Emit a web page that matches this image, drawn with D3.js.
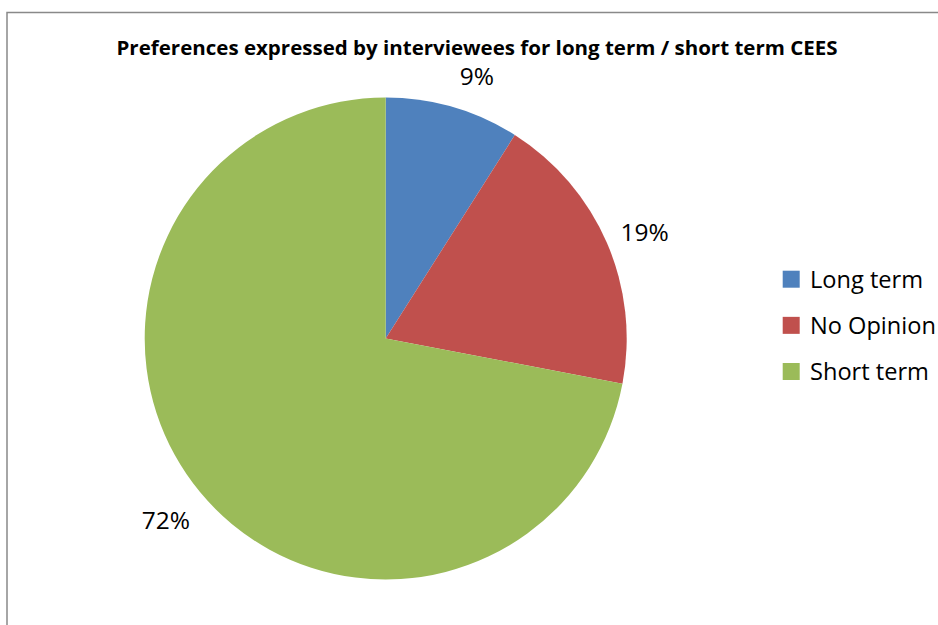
<!DOCTYPE html>
<html>
<head>
<meta charset="utf-8">
<script src="https://cdn.jsdelivr.net/npm/d3@7"></script>
<style>
  html, body { margin: 0; padding: 0; background: #fff; }
  svg { display: block; }
</style>
</head>
<body>
<svg id="chart" width="938" height="625"></svg>
<script>
// Share of interviewees by preferred CEES term
const categories = ["Long term", "No Opinion", "Short term"];
const shares = [9, 19, 72];
const sliceColors = ["#4F81BD", "#C0504D", "#9BBB59"];
const titleText = "Preferences expressed by interviewees for long term / short term CEES";

const svg = d3.select("#chart");
const W = 938, H = 625;
const cx = 385.7, cy = 338.5, radius = 241;

// outer chart frame (runs past the right and bottom edges)
svg.append("rect")
  .attr("x", 7).attr("y", 12.5)
  .attr("width", W + 20).attr("height", H + 20)
  .attr("fill", "#fff")
  .attr("stroke", "#898989")
  .attr("stroke-width", 1.5);

// title
svg.append("text")
  .attr("x", 477).attr("y", 55)
  .attr("text-anchor", "middle")
  .attr("font-family", "'Open Sans', 'Noto Sans', sans-serif")
  .attr("font-weight", "bold")
  .attr("font-size", 20)
  .attr("textLength", 721)
  .attr("lengthAdjust", "spacingAndGlyphs")
  .attr("fill", "#000")
  .text(titleText);

const data = categories.map((c, i) => ({ name: c, value: shares[i], color: sliceColors[i] }));

const pie = d3.pie().sort(null).value(d => d.value);
const arcs = pie(data);

const arc = d3.arc().innerRadius(0).outerRadius(radius);
const labelArc = d3.arc().innerRadius(278).outerRadius(278);
// small hand offsets for the data labels' best-fit placement
const labelNudge = [[13.7, 4.9], [3.8, 3.9], [-5.6, 5.1]];

const g = svg.append("g").attr("transform", `translate(${cx},${cy})`);

g.selectAll("path.slice")
  .data(arcs)
  .join("path")
  .attr("class", "slice")
  .attr("d", arc)
  .attr("fill", d => d.data.color);

g.selectAll("text.pct")
  .data(arcs)
  .join("text")
  .attr("class", "pct")
  .attr("transform", (d, i) => {
    const [x, y] = labelArc.centroid(d);
    return `translate(${x + labelNudge[i][0]},${y + labelNudge[i][1]})`;
  })
  .attr("text-anchor", "middle")
  .attr("dy", "0.35em")
  .attr("font-family", "'Open Sans', 'Noto Sans', sans-serif")
  .attr("font-size", 24.5)
  .attr("fill", "#000")
  .text(d => d3.format(".0f")(d.data.value) + "%");

// legend
const legendY = d3.scalePoint().domain(categories).range([279.2, 371.5]);
const legend = svg.append("g");
const items = legend.selectAll("g.item")
  .data(data)
  .join("g")
  .attr("class", "item")
  .attr("transform", d => `translate(0,${legendY(d.name)})`);

items.append("rect")
  .attr("x", 782.7).attr("y", -8.5)
  .attr("width", 17).attr("height", 17)
  .attr("fill", d => d.color);

items.append("text")
  .attr("x", 810)
  .attr("y", 0)
  .attr("dy", "0.36em")
  .attr("font-family", "'Open Sans', 'Noto Sans', sans-serif")
  .attr("font-size", 23.6)
  .attr("fill", "#000")
  .text(d => d.name);
</script>
</body>
</html>
